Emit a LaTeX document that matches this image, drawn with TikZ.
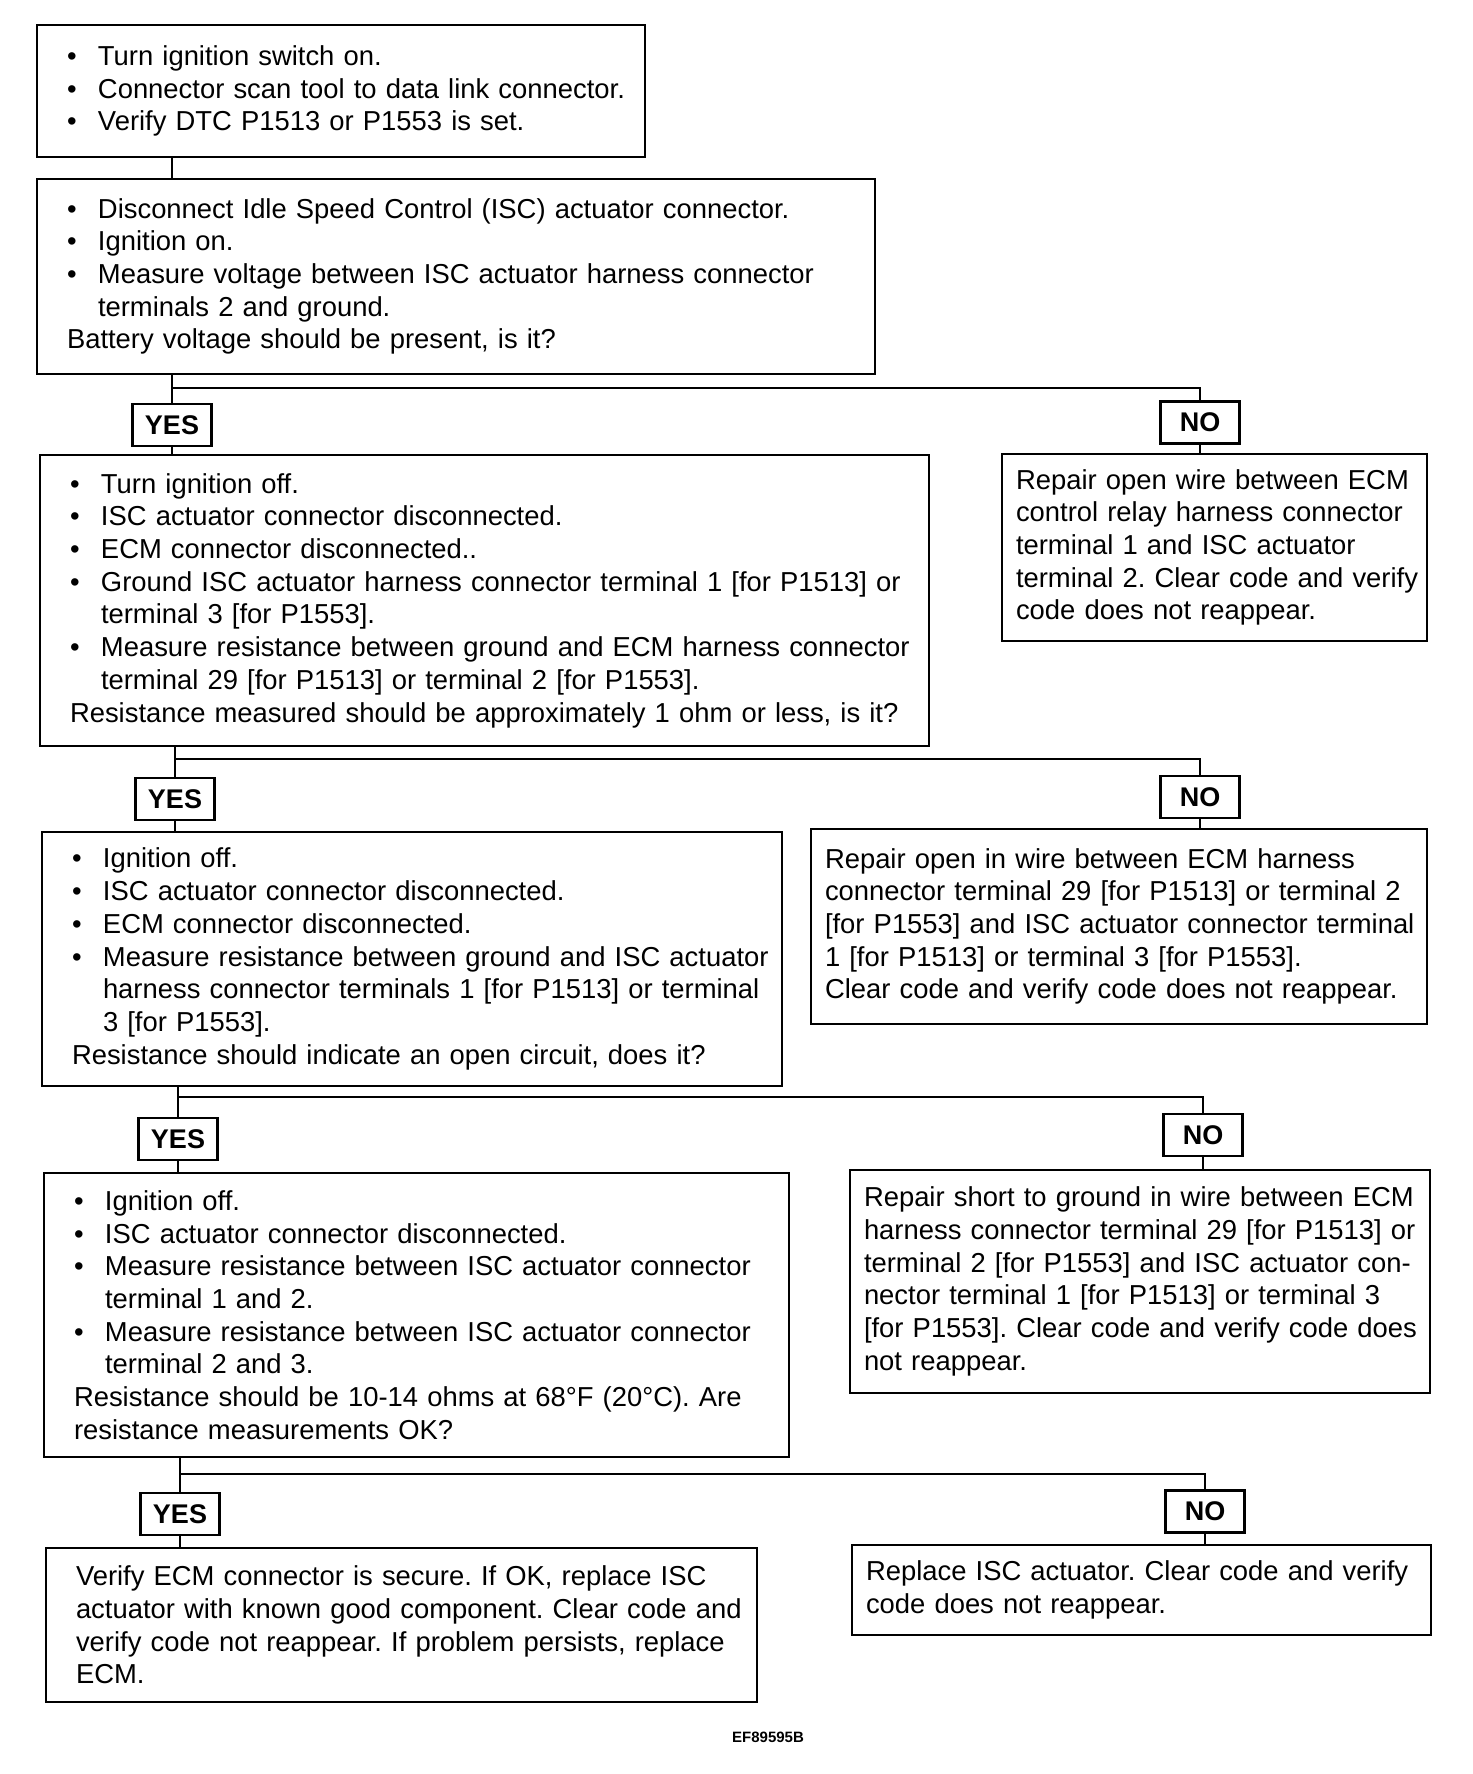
\documentclass[tikz,border=0pt]{standalone}
\usepackage{fontspec}
\setmainfont{Liberation Sans}
\frenchspacing
\newcommand\bitem[1]{\mbox{\makebox[31pt][l]{\textbullet}#1}}
\newcommand\contl[1]{\mbox{\hspace*{31pt}#1}}
\newcommand\plainl[1]{\mbox{#1}}
\begin{document}
\begin{tikzpicture}[x=1pt,y=-1pt,
  box/.style={draw, line width=2.8pt, rectangle, inner ysep=0pt, align=left,
    font=\fontsize{27.4}{32.7}\selectfont\frenchspacing},
  lbox/.style={box, inner xsep=30pt},
  rbox/.style={box, inner xsep=14pt},
  yn/.style={draw, line width=2.8pt, minimum width=79pt, minimum height=42pt,
    inner sep=0pt, font=\fontsize{27}{27}\selectfont\bfseries},
  conn/.style={line width=2.8pt}]
\useasboundingbox (0,0) rectangle (1472,1774);

% step boxes
\node[lbox, minimum width=608pt, minimum height=132pt, text width=548pt] (b1) at (341,91) {%
\bitem{Turn ignition switch on.}\\
\bitem{Connector scan tool to data link connector.}\\
\bitem{Verify DTC P1513 or P1553 is set.}};

\node[lbox, minimum width=838pt, minimum height=195pt, text width=778pt] (b2) at (456,276.5) {%
\bitem{Disconnect Idle Speed Control (ISC) actuator connector.}\\
\bitem{Ignition on.}\\
\bitem{Measure voltage between ISC actuator harness connector}\\
\contl{terminals 2 and ground.}\\
\plainl{Battery voltage should be present, is it?}};

\node[lbox, minimum width=889pt, minimum height=291pt, text width=829pt] (b3) at (484.5,600.5) {%
\bitem{Turn ignition off.}\\
\bitem{ISC actuator connector disconnected.}\\
\bitem{ECM connector disconnected..}\\
\bitem{Ground ISC actuator harness connector terminal 1 [for P1513] or}\\
\contl{terminal 3 [for P1553].}\\
\bitem{Measure resistance between ground and ECM harness connector}\\
\contl{terminal 29 [for P1513] or terminal 2 [for P1553].}\\
\plainl{Resistance measured should be approximately 1 ohm or less, is it?}};

\node[rbox, minimum width=425pt, minimum height=187pt, text width=397pt] (r1) at (1214.5,547.5) {%
\plainl{Repair open wire between ECM}\\
\plainl{control relay harness connector}\\
\plainl{terminal 1 and ISC actuator}\\
\plainl{terminal 2. Clear code and verify}\\
\plainl{code does not reappear.}};

\node[lbox, minimum width=740pt, minimum height=254pt, text width=680pt] (b4) at (412,959) {%
\bitem{Ignition off.}\\
\bitem{ISC actuator connector disconnected.}\\
\bitem{ECM connector disconnected.}\\
\bitem{Measure resistance between ground and ISC actuator}\\
\contl{harness connector terminals 1 [for P1513] or terminal}\\
\contl{3 [for P1553].}\\
\plainl{Resistance should indicate an open circuit, does it?}};

\node[rbox, minimum width=616pt, minimum height=195pt, text width=588pt] (r2) at (1119,926.5) {%
\plainl{Repair open in wire between ECM harness}\\
\plainl{connector terminal 29 [for P1513] or terminal 2}\\
\plainl{[for P1553] and ISC actuator connector terminal}\\
\plainl{1 [for P1513] or terminal 3 [for P1553].}\\
\plainl{Clear code and verify code does not reappear.}};

\node[lbox, minimum width=745pt, minimum height=284pt, text width=685pt] (b5) at (416.5,1315) {%
\bitem{Ignition off.}\\
\bitem{ISC actuator connector disconnected.}\\
\bitem{Measure resistance between ISC actuator connector}\\
\contl{terminal 1 and 2.}\\
\bitem{Measure resistance between ISC actuator connector}\\
\contl{terminal 2 and 3.}\\
\plainl{Resistance should be 10-14 ohms at 68°F (20°C). Are}\\
\plainl{resistance measurements OK?}};

\node[rbox, minimum width=580pt, minimum height=223pt, text width=552pt] (r3) at (1140,1281.5) {%
\plainl{Repair short to ground in wire between ECM}\\
\plainl{harness connector terminal 29 [for P1513] or}\\
\plainl{terminal 2 [for P1553] and ISC actuator con-}\\
\plainl{nector terminal 1 [for P1513] or terminal 3}\\
\plainl{[for P1553]. Clear code and verify code does}\\
\plainl{not reappear.}};

\node[lbox, minimum width=711pt, minimum height=154pt, text width=651pt] (b6) at (401.5,1625) {%
\plainl{Verify ECM connector is secure. If OK, replace ISC}\\
\plainl{actuator with known good component. Clear code and}\\
\plainl{verify code not reappear. If problem persists, replace}\\
\plainl{ECM.}};

\node[rbox, minimum width=579pt, minimum height=90pt, text width=551pt] (r4) at (1141.5,1590) {%
\plainl{Replace ISC actuator. Clear code and verify}\\
\plainl{code does not reappear.}};

% YES / NO labels
\node[yn] (y1) at (172,425) {YES};
\node[yn] (n1) at (1200,422.5) {NO};
\node[yn] (y2) at (175,799) {YES};
\node[yn] (n2) at (1200,797) {NO};
\node[yn] (y3) at (178,1139) {YES};
\node[yn] (n3) at (1203,1135) {NO};
\node[yn] (y4) at (180,1514) {YES};
\node[yn] (n4) at (1205,1511.5) {NO};

\node[font=\fontsize{15}{15}\selectfont\bfseries] (code) at (768,1737) {EF89595B};

% junctions
\coordinate (j1) at (172,388);
\coordinate (j2) at (175,759);
\coordinate (j3) at (178,1097);
\coordinate (j4) at (180,1474);

% connectors
\draw[conn] (b1.south -| y1.center) -- (b2.north -| y1.center);

\draw[conn] (b2.south -| y1.center) -- (y1.north);
\draw[conn] (y1.south) -- (b3.north -| y1.center);
\draw[conn] (j1) -| (n1.north);
\draw[conn] (n1.south) -- (r1.north -| n1.center);

\draw[conn] (b3.south -| y2.center) -- (y2.north);
\draw[conn] (y2.south) -- (b4.north -| y2.center);
\draw[conn] (j2) -| (n2.north);
\draw[conn] (n2.south) -- (r2.north -| n2.center);

\draw[conn] (b4.south -| y3.center) -- (y3.north);
\draw[conn] (y3.south) -- (b5.north -| y3.center);
\draw[conn] (j3) -| (n3.north);
\draw[conn] (n3.south) -- (r3.north -| n3.center);

\draw[conn] (b5.south -| y4.center) -- (y4.north);
\draw[conn] (y4.south) -- (b6.north -| y4.center);
\draw[conn] (j4) -| (n4.north);
\draw[conn] (n4.south) -- (r4.north -| n4.center);
\end{tikzpicture}
\end{document}
